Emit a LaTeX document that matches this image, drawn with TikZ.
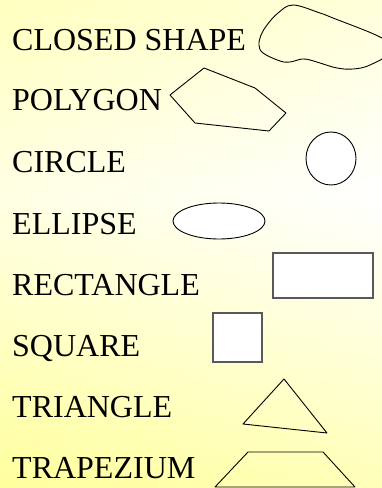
\documentclass[tikz,border=0pt]{standalone}
\usepackage{fontspec}
\setmainfont{Liberation Serif}
\pgfdeclareverticalshading{pagefade}{100bp}{color(0bp)=(yellow!42); color(25bp)=(yellow!42);
  color(55bp)=(white); color(75bp)=(yellow!22); color(100bp)=(yellow!22)}
\begin{document}
\begin{tikzpicture}[
  x=1pt,y=-1pt,
  shapename/.style={anchor=base west,inner sep=0pt,font=\fontsize{32}{36}\selectfont},
  outline/.style={draw=black,line width=0.9pt,line join=round},
  whitebox/.style={draw=black!65,fill=white,line width=1.2pt}
]
  \useasboundingbox (0,0) rectangle (382,488);
  \begin{scope}
    \clip (0,0) rectangle (382,488);
    \shade[shading=pagefade] (0,0) rectangle (382,488);
    \shade[left color=yellow!30,right color=white,fill opacity=0.35] (0,0) rectangle (382,488);

    % closed shape runs off the right edge
    \draw[outline] plot[smooth cycle,tension=0.6] coordinates {
      (293,5) (320,13) (333,18) (380,37) (394,50) (370,65) (353,69)
      (337,68) (320,63) (310,60) (302,59) (290,62) (280,61) (263,53)
      (259,45) (261,35) (267,25) (278,13)};
  \end{scope}

  \node[shapename] (tclosed) at (12,50)  {CLOSED SHAPE};
  \node[shapename] (tpoly)   at (12,110) {POLYGON};
  \node[shapename] (tcircle) at (12,172) {CIRCLE};
  \node[shapename] (tellip)  at (12,234) {ELLIPSE};
  \node[shapename] (trect)   at (12,295) {RECTANGLE};
  \node[shapename] (tsquare) at (12,356) {SQUARE};
  \node[shapename] (ttri)    at (12,417) {TRIANGLE};
  \node[shapename] (ttrap)   at (12,478) {TRAPEZIUM};

  \draw[outline] (204,68) -- (255,88) -- (286,113) -- (269,131) -- (195,123) -- (170,95) -- cycle;
  \draw[outline,fill=white] (331,158.5) ellipse [x radius=25,y radius=26.5];
  \draw[outline,fill=white] (219,221) ellipse [x radius=46,y radius=18];
  \draw[whitebox] (273,253) rectangle (373,298);
  \draw[whitebox] (213,313) rectangle (262,362);
  \draw[outline] (284,379) -- (327,433) -- (243,424) -- cycle;
  \draw[outline] (248,452) -- (323,452) -- (355,487) -- (215,487) -- cycle;
\end{tikzpicture}
\end{document}
